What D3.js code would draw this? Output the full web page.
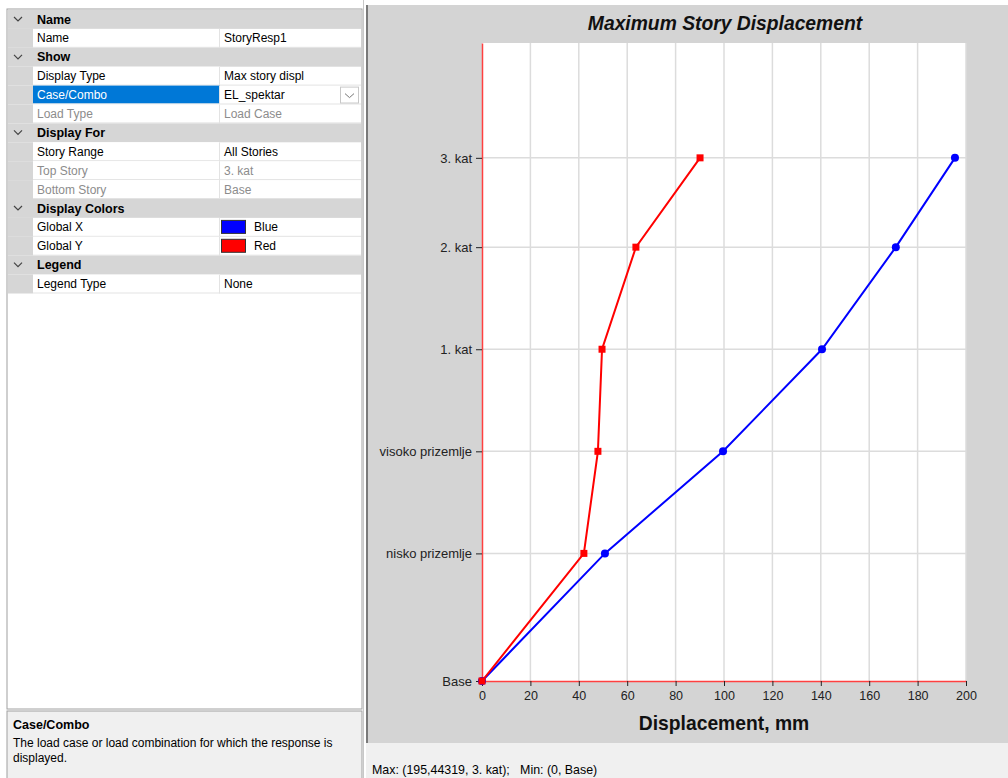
<!DOCTYPE html>
<html>
<head>
<meta charset="utf-8">
<script src="https://cdn.jsdelivr.net/npm/d3@7"></script>
<style>
  html, body { margin:0; padding:0; background:#ffffff; }
  svg { display:block; font-family: "Liberation Sans", Arial, sans-serif; }
</style>
</head>
<body>
<svg id="root" width="1008" height="778"></svg>
<script>
// ---------- data ----------
const stories = ["Base", "nisko prizemlje", "visoko prizemlje", "1. kat", "2. kat", "3. kat"];
const elevations = [0, 4.0, 7.2, 10.4, 13.6, 16.4];          // story elevations (m)
const globalX = [0, 50.8, 99.6, 140.5, 171.0, 195.44];        // Global X displacement (mm)
const globalY = [0, 42.1, 47.9, 49.6, 63.6, 90.1];            // Global Y displacement (mm)
const xTicks = [0, 20, 40, 60, 80, 100, 120, 140, 160, 180, 200];
const chartTitle = "Maximum Story Displacement";
const xTitle = "Displacement, mm";
const statusText = "Max: (195,44319, 3. kat);   Min: (0, Base)";

// property grid content
const gridRows = [
  {type:"cat", label:"Name"},
  {type:"prop", label:"Name", value:"StoryResp1"},
  {type:"cat", label:"Show"},
  {type:"prop", label:"Display Type", value:"Max story displ"},
  {type:"prop", label:"Case/Combo", value:"EL_spektar", selected:true, dropdown:true},
  {type:"prop", label:"Load Type", value:"Load Case", disabled:true},
  {type:"cat", label:"Display For"},
  {type:"prop", label:"Story Range", value:"All Stories"},
  {type:"prop", label:"Top Story", value:"3. kat", disabled:true},
  {type:"prop", label:"Bottom Story", value:"Base", disabled:true},
  {type:"cat", label:"Display Colors"},
  {type:"prop", label:"Global X", value:"Blue", swatch:"#0000ff"},
  {type:"prop", label:"Global Y", value:"Red", swatch:"#ff0000"},
  {type:"cat", label:"Legend"},
  {type:"prop", label:"Legend Type", value:"None"}
];
const descTitle = "Case/Combo";
const descLines = ["The load case or load combination for which the response is", "displayed."];

// ---------- drawing ----------
const svg = d3.select("#root");
const uiFont = "'Liberation Sans', Arial, sans-serif";

// ---- left property panel ----
const panel = svg.append("g");
panel.append("rect").attr("x",7).attr("y",9).attr("width",355).attr("height",700)
  .attr("fill","#ffffff").attr("stroke","#a0a0a0");
const rowH = 18.9, gridTop = 10, gutterW = 25, valX = 220, gridR = 361;
gridRows.forEach((r, i) => {
  const y = gridTop + i * rowH;
  const g = panel.append("g");
  if (r.type === "cat") {
    g.append("rect").attr("x",8).attr("y",y).attr("width",gridR-8).attr("height",rowH).attr("fill","#d6d6d6");
    g.append("path").attr("d",`M14,${y+7} L18,${y+11} L22,${y+7}`).attr("fill","none").attr("stroke","#444").attr("stroke-width",1.2);
    g.append("text").attr("x",37).attr("y",y+13.5).attr("font-size",12.5).attr("font-weight","bold")
      .attr("font-family",uiFont).attr("fill","#000").text(r.label);
  } else {
    g.append("rect").attr("x",8).attr("y",y).attr("width",gutterW).attr("height",rowH).attr("fill","#d6d6d6");
    g.append("rect").attr("x",8+gutterW).attr("y",y).attr("width",valX-8-gutterW).attr("height",rowH-1)
      .attr("fill", r.selected ? "#0078d7" : "#ffffff");
    g.append("line").attr("x1",8+gutterW).attr("x2",gridR).attr("y1",y+rowH-0.5).attr("y2",y+rowH-0.5).attr("stroke","#e3e3e3");
    g.append("line").attr("x1",valX-0.5).attr("x2",valX-0.5).attr("y1",y).attr("y2",y+rowH).attr("stroke","#e3e3e3");
    g.append("text").attr("x",37).attr("y",y+13.5).attr("font-size",12).attr("font-family",uiFont)
      .attr("fill", r.selected ? "#ffffff" : (r.disabled ? "#8c8c8c" : "#000")).text(r.label);
    let tx = valX + 4;
    if (r.swatch) {
      g.append("rect").attr("x",valX+1.5).attr("y",y+2.5).attr("width",24).attr("height",13)
        .attr("fill",r.swatch).attr("stroke","#333").attr("stroke-width",1);
      tx = valX + 34;
    }
    g.append("text").attr("x",tx).attr("y",y+13.5).attr("font-size",12).attr("font-family",uiFont)
      .attr("fill", r.disabled ? "#8c8c8c" : "#000").text(r.value);
    if (r.dropdown) {
      g.append("rect").attr("x",340.5).attr("y",y+1.5).attr("width",18).attr("height",rowH-3)
        .attr("fill","#fff").attr("stroke","#c8c8c8");
      g.append("path").attr("d",`M345,${y+8} L349.5,${y+12} L354,${y+8}`).attr("fill","none").attr("stroke","#777");
    }
  }
});
// description area
panel.append("rect").attr("x",7).attr("y",711).attr("width",355).attr("height",70)
  .attr("fill","#f0f0f0").attr("stroke","#a0a0a0");
panel.append("text").attr("x",13).attr("y",729).attr("font-size",12.5).attr("font-weight","bold")
  .attr("font-family",uiFont).text(descTitle);
descLines.forEach((t,i) => panel.append("text").attr("x",13).attr("y",747 + i*14.5)
  .attr("font-size",12).attr("font-family",uiFont).text(t));
panel.append("line").attr("x1",363.5).attr("x2",363.5).attr("y1",0).attr("y2",778).attr("stroke","#c8c8c8");

// ---- chart pane ----
svg.append("rect").attr("x",366).attr("y",5).attr("width",642).attr("height",738).attr("fill","#d4d4d4");
svg.append("line").attr("x1",367).attr("x2",367).attr("y1",5).attr("y2",743).attr("stroke","#7a7a7a").attr("stroke-width",2);
svg.append("rect").attr("x",366).attr("y",743).attr("width",642).attr("height",35).attr("fill","#f0f0f0");
svg.append("text").attr("x",372).attr("y",774).attr("font-size",12.4).attr("font-family",uiFont)
  .attr("fill","#000").attr("xml:space","preserve").style("white-space","pre").text(statusText);

const plotL = 482, plotR = 966, plotT = 43, plotB = 681;
const x = d3.scaleLinear().domain([0, 200]).range([plotL, plotR]);
const y = d3.scaleLinear().domain([0, 20]).range([plotB, plotT]);

svg.append("rect").attr("x",plotL).attr("y",plotT).attr("width",plotR-plotL).attr("height",plotB-plotT).attr("fill","#ffffff");

// grid
svg.append("g").selectAll("line").data(xTicks.slice(1)).join("line")
  .attr("x1",d=>x(d)).attr("x2",d=>x(d)).attr("y1",plotT).attr("y2",plotB)
  .attr("stroke","#dcdcdc").attr("stroke-width",1.5);
svg.append("g").selectAll("line").data(elevations.slice(1)).join("line")
  .attr("x1",plotL).attr("x2",plotR).attr("y1",d=>y(d)).attr("y2",d=>y(d))
  .attr("stroke","#dcdcdc").attr("stroke-width",1.5);

// title
svg.append("text").attr("x",725).attr("y",30).attr("text-anchor","middle")
  .attr("font-size",19.3).attr("font-weight","bold").attr("font-style","italic")
  .attr("font-family","'Liberation Sans', Arial, sans-serif").attr("fill","#111").text(chartTitle);

// x axis
const xAxis = svg.append("g").attr("transform",`translate(0,${plotB})`)
  .call(d3.axisBottom(x).tickValues(xTicks).tickFormat(d3.format("d")).tickSize(5).tickSizeOuter(0));
xAxis.select(".domain").attr("stroke","#ff4040").attr("stroke-width",1.5);
xAxis.selectAll(".tick line").attr("stroke","#222");
xAxis.selectAll(".tick text").attr("font-size",12.5).attr("font-family",uiFont).attr("fill","#222").attr("dy","0.9em");

// y axis
const yAxis = svg.append("g").attr("transform",`translate(${plotL},0)`)
  .call(d3.axisLeft(y).tickValues(elevations).tickFormat((d,i)=>stories[i]).tickSize(6).tickSizeOuter(0));
yAxis.select(".domain").attr("stroke","#ff4040").attr("stroke-width",1.5);
yAxis.selectAll(".tick line").attr("stroke","#222");
yAxis.selectAll(".tick text").attr("font-size",13).attr("font-family",uiFont).attr("fill","#222").attr("x",-10);

// x title
svg.append("text").attr("x",724).attr("y",730).attr("text-anchor","middle")
  .attr("font-size",19.3).attr("font-weight","bold").attr("font-family","'Liberation Sans', Arial, sans-serif")
  .attr("fill","#111").text(xTitle);

// series
const line = d3.line().x(d=>x(d[0])).y(d=>y(d[1]));
const ptsX = globalX.map((v,i)=>[v, elevations[i]]);
const ptsY = globalY.map((v,i)=>[v, elevations[i]]);

svg.append("path").datum(ptsX).attr("d",line).attr("fill","none").attr("stroke","#0000ff").attr("stroke-width",2);
svg.append("g").selectAll("circle").data(ptsX).join("circle")
  .attr("cx",d=>x(d[0])).attr("cy",d=>y(d[1])).attr("r",4).attr("fill","#0000ff");

svg.append("path").datum(ptsY).attr("d",line).attr("fill","none").attr("stroke","#ff0000").attr("stroke-width",2);
svg.append("g").selectAll("rect").data(ptsY).join("rect")
  .attr("x",d=>x(d[0])-3.5).attr("y",d=>y(d[1])-3.5).attr("width",7).attr("height",7).attr("fill","#ff0000");
</script>
</body>
</html>
